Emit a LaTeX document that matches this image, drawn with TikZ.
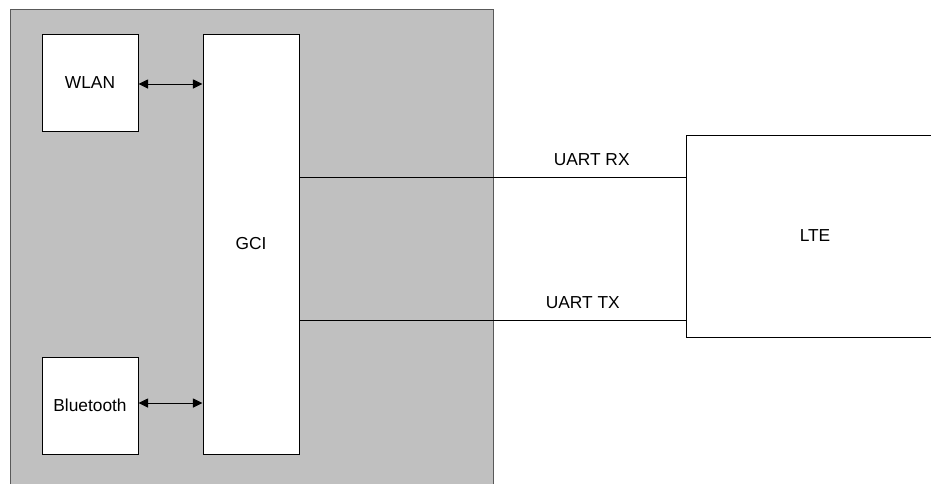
\documentclass[tikz,border=0pt]{standalone}
\usepackage{fontspec}
\setmainfont{Liberation Sans}
\usetikzlibrary{positioning,arrows.meta}
\definecolor{chipgray}{RGB}{192,192,192}

\begin{document}
\begin{tikzpicture}[x=0.75pt,y=-0.75pt,
    block/.style = {draw, fill=white, line width=0.75pt, inner sep=0pt,
                    font=\fontsize{13}{15}\selectfont},
    link/.style  = {{Triangle[length=7.2pt,width=6.8pt]}-{Triangle[length=7.2pt,width=6.8pt]}, line width=0.75pt},
    wire/.style  = {line width=0.75pt},
    signal/.style= {inner sep=0pt, font=\fontsize{13}{15}\selectfont}]
  \useasboundingbox (0,0) rectangle (931,483);

  % chip
  \draw[fill=chipgray, draw=black!65, line width=0.75pt] (10,9) rectangle (493,520);

  \node[block, minimum width=72pt, minimum height=315pt] (gci) at (251,244) {GCI};
  \node[block, minimum width=72pt, minimum height=72.75pt] (wlan) at (90,82.5) {WLAN};
  \node[block, minimum width=72pt, minimum height=72.75pt] (bt) at (90,405.5) {Bluetooth};
  \node[block, minimum width=193.5pt, minimum height=151.5pt] (lte) at (815,236) {LTE};

  \draw[link] (wlan.east) ++(0,1.5) coordinate (wlanout) -- (wlanout -| gci.west);
  \draw[link] (bt.east) ++(0,-2.5) coordinate (btout) -- (btout -| gci.west);

  \path (lte.west) ++(0,-59) coordinate (rxin);
  \path (lte.west) ++(0,84) coordinate (txout);
  \draw[wire] (gci.east |- rxin) -- node[signal, above=8pt, pos=0.757] (rx) {UART RX} (rxin);
  \draw[wire] (gci.east |- txout) -- node[signal, above=8pt, pos=0.734] (tx) {UART TX} (txout);
\end{tikzpicture}
\end{document}
